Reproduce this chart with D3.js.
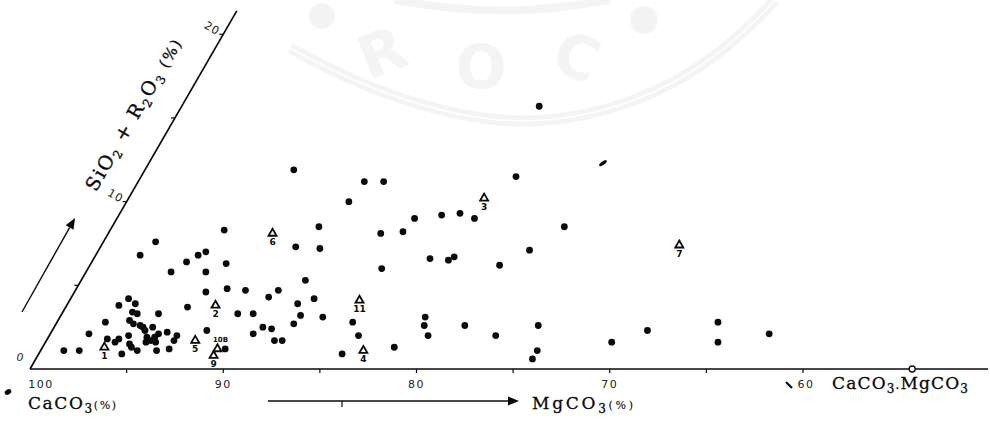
<!DOCTYPE html>
<html>
<head>
<meta charset="utf-8">
<script src="https://cdn.jsdelivr.net/npm/d3@7"></script>
<style>
  body { margin: 0; background: #fff; }
  svg { display: block; }
</style>
</head>
<body>
<div class="chart"></div>
<script>
// CaCO3 (%) read along the base, SiO2 + R2O3 (%) read along the slanted axis
const dotCaCO3 = [81.5, 92.3, 88.3, 87.3, 88.5, 80.6, 84.6, 83.3, 82.4, 81.5,
	76.6, 89.3, 89.9, 88.6, 85.9, 84.8, 82.6, 81.6, 81.4, 78.8,
	77.7, 84.8, 88.4, 89.5, 89.8, 87.4, 88.1, 87.6, 86.4, 90.1,
	89.2, 88.7, 87.7, 89.5, 88.2, 87.8, 84.7, 84.0, 84.3, 81.8,
	81.1, 80.9, 80.4, 78.8, 76.9, 75.0, 74.3, 74.3, 70.7, 69.2,
	65.8, 65.2, 62.8, 94.1, 97.3, 97.7, 94.4, 94.7, 95.1, 95.6,
	93.0, 93.8, 92.2, 91.2, 93.2, 93.7, 95.0, 90.9, 92.0, 90.5,
	98.8, 98.0, 98.0, 97.5, 96.9, 96.4, 96.3, 95.7, 97.3, 97.0,
	96.5, 96.4, 96.1, 96.3, 96.0, 95.6, 95.4, 95.2, 94.9, 94.8,
	95.9, 95.6, 95.4, 95.0, 94.9, 94.6, 94.5, 94.4, 94.0, 94.0,
	93.4, 93.4, 93.4, 94.3];
const dotSiO2 = [15.7, 11.9, 11.2, 11.2, 10.0, 11.5, 9.0, 9.2, 9.3, 9.0,
	8.5, 8.5, 7.3, 7.2, 8.1, 8.2, 6.6, 6.5, 6.7, 6.2,
	7.1, 6.0, 5.3, 4.7, 4.3, 4.2, 3.9, 3.2, 3.1, 3.3,
	2.5, 2.4, 2.7, 2.1, 1.7, 1.7, 2.8, 2.0, 0.9, 1.3,
	3.1, 2.6, 2.0, 2.6, 2.0, 2.6, 1.1, 0.6, 1.6, 2.3,
	2.8, 1.6, 2.1, 8.3, 7.6, 6.8, 7.0, 6.8, 6.4, 5.8,
	6.3, 5.8, 4.8, 4.7, 4.6, 3.7, 3.3, 3.3, 2.3, 1.2,
	1.1, 1.1, 2.1, 2.8, 1.8, 1.6, 1.8, 0.9, 3.8, 4.2,
	3.9, 3.4, 3.3, 2.9, 2.7, 2.6, 2.5, 2.3, 1.9, 1.6,
	2.0, 1.5, 1.3, 1.1, 2.5, 1.7, 1.9, 2.1, 2.2, 1.1,
	1.2, 2.0, 1.7, 1.6];

// numbered samples (triangles)
const triLabels = ["1", "2", "5", "9", "10B", "11", "4", "6", "3", "7"];
const triCaCO3 = [96.8, 92.3, 92.3, 90.9, 90.9, 85.0, 83.3, 91.5, 81.6, 70.1];
const triSiO2 = [1.3, 3.8, 1.7, 0.8, 1.2, 4.1, 1.1, 8.1, 10.2, 7.4];

// smeared point
const smudgeCaCO3 = [76.5];
const smudgeSiO2 = [12.3];

const baseTicks = [100, 95, 90, 85, 80, 75, 70, 65, 60];
const baseLabels = [100, 90, 80, 70, 60];
const slantTicks = [5, 10, 15, 20];
const slantLabels = [10, 20];
const dolomiteCaCO3 = 54.35;

const width = 990;
const height = 422;
const y0 = 369;
const ink = "#0a0a0a";

const x = d3.scaleLinear().domain([100, 60]).range([30, 803]);
const len = d3.scaleLinear().domain([0, 20]).range([0, 386.5]);
const COS = Math.cos(Math.PI / 3);
const SIN = Math.sin(Math.PI / 3);
function px(c, s) { return x(c) + len(s) * COS; }
function py(s) { return y0 - len(s) * SIN; }

const svg = d3.select('.chart')
	.append('svg')
	.attr('width', width)
	.attr('height', height)
	.style('background', '#fff');

// faint watermark
const wm = svg.append('g').attr('fill', '#f4f4f4').attr('stroke', '#f4f4f4');
const curve = d3.line().curve(d3.curveBasis);
const band = [[290, 48], [350, 80], [420, 106], [490, 121], [550, 122], [620, 108], [690, 76], [745, 32], [775, 0]];
wm.append('path')
	.attr('d', curve(band))
	.attr('fill', 'none').attr('stroke-width', 11);
wm.append('path')
	.attr('d', curve(band))
	.attr('fill', 'none').attr('stroke', '#fff').attr('stroke-width', 1.5);
wm.append('path')
	.attr('d', curve([[395, 0], [450, 9], [520, 12], [580, 5], [610, 0]]))
	.attr('fill', 'none').attr('stroke-width', 8);
wm.append('circle').attr('cx', 322).attr('cy', 16).attr('r', 13).attr('stroke', 'none');
wm.append('circle').attr('cx', 644).attr('cy', 20).attr('r', 14).attr('stroke', 'none');
[["R", 390, 72, -22], ["O", 481, 88, 0], ["C", 569, 76, 22]].forEach(function(d) {
	wm.append('text')
		.text(d[0])
		.attr('transform', 'translate(' + d[1] + ',' + d[2] + ') rotate(' + d[3] + ')')
		.attr('text-anchor', 'middle')
		.attr('stroke', 'none')
		.attr('font-family', 'DejaVu Sans')
		.attr('font-weight', 'bold')
		.attr('font-size', '60px');
});

// base axis
svg.append('line')
	.attr('x1', x(100)).attr('x2', 988)
	.attr('y1', y0).attr('y2', y0)
	.attr('stroke', ink).attr('stroke-width', 1.7);

svg.selectAll('.base-tick')
	.data(baseTicks.slice(1))
	.enter()
	.append('line')
	.attr('x1', d => x(d)).attr('x2', d => x(d))
	.attr('y1', y0).attr('y2', y0 + 4)
	.attr('stroke', ink).attr('stroke-width', 1.2);

svg.selectAll('.base-label')
	.data(baseLabels)
	.enter()
	.append('text')
	.text(d => d)
	.attr('x', function(d) {
		if (d == 100) { return x(d) + 11; }
		if (d == 60) { return x(d) + 3; }
		return x(d);
	})
	.attr('y', 388)
	.attr('text-anchor', 'middle')
	.attr('font-family', 'DejaVu Sans')
	.attr('font-size', '11px')
	.attr('letter-spacing', '1.5px')
	.attr('fill', '#222');

svg.append('circle')
	.attr('cx', x(dolomiteCaCO3)).attr('cy', y0)
	.attr('r', 3)
	.attr('fill', '#fff').attr('stroke', ink).attr('stroke-width', 1.3);

// slanted axis
svg.append('line')
	.attr('x1', px(100, 0)).attr('y1', py(0))
	.attr('x2', px(100, 21.4)).attr('y2', py(21.4))
	.attr('stroke', ink).attr('stroke-width', 1.7);

svg.selectAll('.slant-tick')
	.data(slantTicks)
	.enter()
	.append('line')
	.attr('x1', d => px(100, d)).attr('x2', d => px(100, d) - 4)
	.attr('y1', d => py(d)).attr('y2', d => py(d))
	.attr('stroke', ink).attr('stroke-width', 1.2);

svg.selectAll('.slant-label')
	.data(slantLabels)
	.enter()
	.append('text')
	.text(d => d)
	.attr('transform', d => 'translate(' + (px(100, d) - 11) + ',' + (py(d) - 6) + ') rotate(30)')
	.attr('text-anchor', 'middle')
	.attr('dy', '0.35em')
	.attr('font-family', 'DejaVu Sans')
	.attr('font-size', '11px')
	.attr('letter-spacing', '1px')
	.attr('fill', '#222');

svg.append('text')
	.text('0')
	.attr('x', 20).attr('y', 361)
	.attr('text-anchor', 'middle')
	.attr('font-family', 'DejaVu Sans')
	.attr('font-style', 'italic')
	.attr('font-size', '11px')
	.attr('fill', '#222');

// slanted title
const title = svg.append('text')
	.attr('transform', 'translate(139,118) rotate(-60)')
	.attr('text-anchor', 'middle')
	.attr('font-family', 'DejaVu Serif')
	.attr('font-size', '19px')
	.attr('fill', ink)
	.attr('stroke', ink)
	.attr('stroke-width', 0.35)
	.attr('textLength', 172)
	.attr('lengthAdjust', 'spacing');
title.append('tspan').text('SiO');
title.append('tspan').text('2').attr('dy', 4).attr('font-size', '12px');
title.append('tspan').text(' + R').attr('dy', -4);
title.append('tspan').text('2').attr('dy', 4).attr('font-size', '12px');
title.append('tspan').text('O').attr('dy', -4);
title.append('tspan').text('3').attr('dy', 4).attr('font-size', '12px');
title.append('tspan').text(' (%)').attr('dy', -4).attr('font-size', '15px');

// arrows
const arrows = [[[22, 312], [75, 218]], [[268, 401], [519, 401]]];
arrows.forEach(function(a) {
	const dx = a[1][0] - a[0][0];
	const dy = a[1][1] - a[0][1];
	const L = Math.sqrt(dx * dx + dy * dy);
	const ux = dx / L, uy = dy / L;
	const bx = a[1][0] - ux * 11, by = a[1][1] - uy * 11;
	svg.append('line')
		.attr('x1', a[0][0]).attr('y1', a[0][1])
		.attr('x2', bx).attr('y2', by)
		.attr('stroke', ink).attr('stroke-width', 1.4);
	svg.append('path')
		.attr('d', 'M' + a[1][0] + ',' + a[1][1] +
			'L' + (bx - uy * 4.5) + ',' + (by + ux * 4.5) +
			'L' + (bx + uy * 4.5) + ',' + (by - ux * 4.5) + 'Z')
		.attr('fill', ink);
});
svg.append('line')
	.attr('x1', 342).attr('x2', 342).attr('y1', 401).attr('y2', 407)
	.attr('stroke', ink).attr('stroke-width', 1.2);

// bottom labels
function chem(parts, xPos, yPos, total) {
	const t = svg.append('text')
		.attr('x', xPos).attr('y', yPos)
		.attr('font-family', 'DejaVu Serif')
		.attr('font-size', '17px')
		.attr('fill', ink)
		.attr('stroke', ink)
		.attr('stroke-width', 0.3)
		.attr('textLength', total)
		.attr('lengthAdjust', 'spacing');
	let shifted = 0;
	parts.forEach(function(p) {
		const s = t.append('tspan').text(p[0]);
		const want = p[1] == 'sub' ? 4 : 0;
		if (want != shifted) { s.attr('dy', want - shifted); shifted = want; }
		if (p[1] == 'sub') { s.attr('font-size', '12px'); }
		if (p[1] == 'small') { s.attr('font-size', '11px').attr('stroke-width', 0.1); }
	});
}
chem([['CaCO', ''], ['3', 'sub'], ['(%)', 'small']], 28, 409, 88);
chem([['MgCO', ''], ['3', 'sub'], ['(%)', 'small']], 532, 409, 101);
chem([['CaCO', ''], ['3·', 'sub'], ['MgCO', ''], ['3', 'sub']], 832, 389, 136);

// stray marks in the scan
svg.append('ellipse')
	.attr('cx', 8).attr('cy', 392).attr('rx', 3.5).attr('ry', 2.5)
	.attr('transform', 'rotate(-30,8,392)')
	.attr('fill', ink);
svg.append('line')
	.attr('x1', 786).attr('y1', 382).attr('x2', 792).attr('y2', 388)
	.attr('stroke', ink).attr('stroke-width', 2.2);

// data points
svg.selectAll('.dot')
	.data(dotCaCO3)
	.enter()
	.append('circle')
	.attr('cx', (d, i) => px(d, dotSiO2[i]))
	.attr('cy', (d, i) => py(dotSiO2[i]))
	.attr('r', 3.4)
	.attr('fill', ink);

svg.selectAll('.smudge')
	.data(smudgeCaCO3)
	.enter()
	.append('ellipse')
	.attr('transform', (d, i) => 'translate(' + px(d, smudgeSiO2[i]) + ',' + py(smudgeSiO2[i]) + ') rotate(-35)')
	.attr('rx', 4.5).attr('ry', 1.8)
	.attr('fill', ink);

const tri = d3.symbol().type(d3.symbolTriangle).size(28);
svg.selectAll('.tri')
	.data(triCaCO3)
	.enter()
	.append('path')
	.attr('d', tri)
	.attr('transform', (d, i) => 'translate(' + px(d, triSiO2[i]) + ',' + py(triSiO2[i]) + ')')
	.attr('fill', '#fff')
	.attr('stroke', ink)
	.attr('stroke-width', 1.8);

svg.selectAll('.tri-label')
	.data(triLabels)
	.enter()
	.append('text')
	.text(d => d)
	.attr('x', (d, i) => px(triCaCO3[i], triSiO2[i]) + (d == '10B' ? 3 : 0))
	.attr('y', (d, i) => py(triSiO2[i]) + (d == '10B' ? -7 : 11.5))
	.attr('text-anchor', 'middle')
	.attr('font-family', 'DejaVu Sans')
	.attr('font-weight', 'bold')
	.attr('font-size', d => d == '10B' ? '7px' : '9px')
	.attr('fill', ink);
</script>
</body>
</html>
